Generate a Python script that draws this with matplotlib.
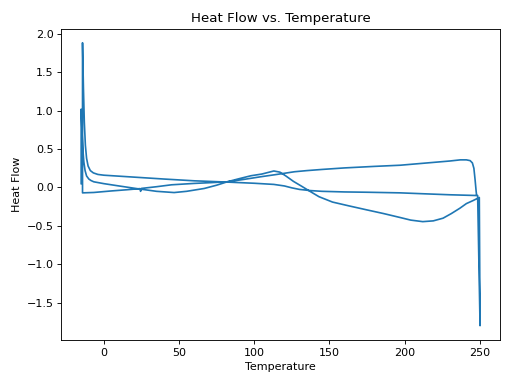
import numpy as np
import matplotlib
matplotlib.use("Agg")
import matplotlib.pyplot as plt

# Premier chauffage (-15 -> 250)
chauffe1_temp = [-15.1, -15.1, -14.6, -14.0, -13.3, -12.5, -11.5, -10.0, -8.5, -6.7,
                 0.0, 10.0, 22.0, 35.0, 46.7, 55.0, 66.7, 75.0, 82.0, 90.0,
                 97.8, 105.0, 110.0, 113.0, 117.0, 121.0, 126.0, 132.0, 137.0, 143.0,
                 152.0, 163.0, 174.4, 186.0, 196.7, 204.0, 212.0, 219.0, 225.5, 231.0,
                 236.7, 241.0, 245.5, 249.6, 250.1]
chauffe1_flux = [0.05, 1.02, 0.75, 0.50, 0.33, 0.22, 0.15, 0.11, 0.09, 0.074,
                 0.05, 0.02, -0.015, -0.05, -0.066, -0.05, -0.013, 0.03, 0.074, 0.115,
                 0.153, 0.175, 0.20, 0.215, 0.20, 0.15, 0.08, 0.01, -0.05, -0.12,
                 -0.19, -0.24, -0.29, -0.34, -0.39, -0.425, -0.445, -0.435, -0.40, -0.34,
                 -0.27, -0.21, -0.17, -0.13, -1.80]

# Refroidissement (250 -> -15)
refroid_temp = [248.5, 230.0, 210.0, 197.0, 175.0, 160.0, 145.0, 137.0, 130.0, 125.0,
                120.0, 113.0, 100.0, 80.0, 60.0, 40.0, 20.0, 0.0, -4.0, -7.0,
                -9.0, -10.5, -11.5, -12.3, -13.0, -13.6, -14.2, -14.2]
refroid_flux = [-0.105, -0.095, -0.08, -0.07, -0.062, -0.058, -0.05, -0.04, -0.025, -0.005,
                0.02, 0.04, 0.055, 0.072, 0.087, 0.11, 0.135, 0.16, 0.17, 0.19,
                0.22, 0.28, 0.38, 0.55, 0.85, 1.30, 1.885, -0.07]

# Second chauffage (-15 -> 250)
chauffe2_temp = [-6.7, 5.0, 15.0, 24.0, 24.4, 25.0, 35.0, 45.0, 60.0, 70.0,
                 82.0, 93.0, 104.4, 115.0, 126.7, 135.0, 145.0, 160.0, 180.0, 197.0,
                 215.0, 230.0, 237.0, 241.0, 243.5, 245.0, 246.0, 246.8, 247.5, 247.8]
chauffe2_flux = [-0.065, -0.045, -0.03, -0.015, -0.05, -0.012, 0.01, 0.035, 0.053, 0.062,
                 0.074, 0.105, 0.14, 0.17, 0.205, 0.22, 0.235, 0.255, 0.275, 0.29,
                 0.32, 0.345, 0.36, 0.36, 0.35, 0.32, 0.25, 0.10, -0.05, -0.10]

temperature = np.concatenate([chauffe1_temp, refroid_temp, chauffe2_temp])
flux = np.concatenate([chauffe1_flux, refroid_flux, chauffe2_flux])

plt.figure(figsize=(6.4, 4.8), dpi=80)
plt.plot(temperature, flux)
plt.title("Heat Flow vs. Temperature")
plt.xlabel("Temperature")
plt.ylabel("Heat Flow")
plt.tight_layout()
plt.savefig("out.png")
